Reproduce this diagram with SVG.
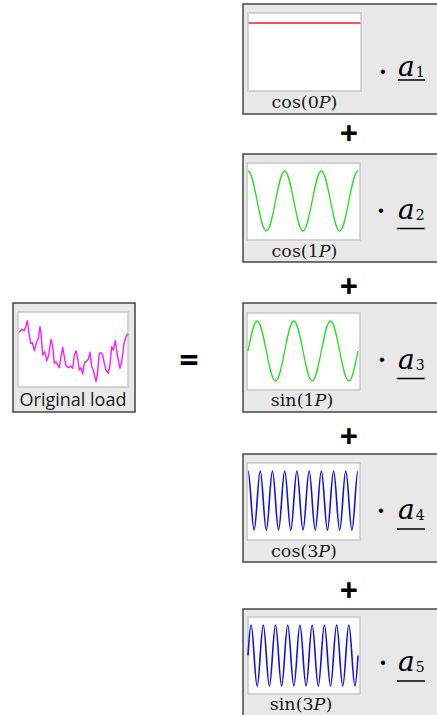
<svg xmlns="http://www.w3.org/2000/svg" width="437" height="715" viewBox="0 0 437 715">
<style>
.box{fill:#e8e8e8;stroke:#454545;stroke-width:1.5}
.panel{fill:#fff;stroke:#c8c8c8;stroke-width:1.5}
.lbl{font-family:"DejaVu Serif","Liberation Serif",serif;font-size:17.5px;fill:#1a1a1a;text-anchor:middle}
.coef{font-family:"DejaVu Serif","Liberation Serif",serif;font-size:28px;font-style:italic;fill:#000}
.sub{font-style:normal;font-size:14px}
.dot{font-family:"DejaVu Serif",serif;font-size:24px;font-weight:bold;fill:#000;text-anchor:middle}
.ul{stroke:#000;stroke-width:1.5}
.op{font-family:"Open Sans","DejaVu Sans",sans-serif;font-weight:bold;fill:#000;text-anchor:middle}
.wave{fill:none;stroke-linejoin:round}
.green{stroke:#22e01a;stroke-width:1.3}
.blue{stroke:#1010e6;stroke-width:1.6}
</style>
<rect width="437" height="715" fill="#fff"/>

<g id="original">
<rect class="box" x="13" y="303" width="122" height="109"/>
<rect class="panel" x="18" y="312" width="110" height="75"/>
<path class="wave" stroke="#ff19ff" stroke-width="1.4" d="M19.3,332.3 L21.7,329.3 L24,330.7 L26,326 L27.3,320.7 L29,333.3 L30.7,343.3 L32.3,342.7 L34.3,350.7 L36.7,341.7 L38.3,338.3 L40,326.7 L41,333.3 L42.7,355 L44.7,351.7 L46.7,360.7 L48.7,355 L51,339.3 L52.7,346.7 L54.3,363.3 L56,361.7 L57.7,365 L59.3,367.7 L61,356.7 L62.7,347.3 L64.3,356.7 L66,365.7 L68.3,367.7 L70.7,366 L72.7,368.3 L74.3,355 L76,350.7 L77.7,358.3 L79.3,370 L81,367.7 L82.7,374 L84.3,363.3 L86.7,360.7 L88.3,359.3 L90,352.3 L91.7,366.7 L93.3,370 L95,377.3 L96,381.7 L97.3,375 L99.3,353.3 L101,352.7 L102.7,355 L104.3,363.3 L106,370 L108.3,373.3 L110,365 L111.7,346.7 L113.3,350 L115.3,340.7 L117.3,355 L120,368.3 L122,360 L124,343.3 L126,336.7 L128,334"/>
<text x="73" y="405.5" font-family="'Open Sans','Noto Sans',sans-serif" font-size="18" fill="#1a1a1a" text-anchor="middle">Original load</text>
</g>

<g id="term1">
<rect class="box" x="243" y="4" width="200" height="110"/>
<rect class="panel" x="248" y="13" width="113" height="78"/>
<line x1="248.5" y1="23" x2="360.5" y2="23" stroke="#f55656" stroke-width="2"/>
<text class="lbl" x="304.5" y="108">cos(0<tspan font-style="italic">P</tspan>)</text>
<text class="dot" x="383" y="80">·</text>
<text class="coef" x="398" y="76">a<tspan class="sub" dx="1" dy="1">1</tspan></text>
<line class="ul" x1="398" y1="80" x2="425" y2="80"/>
</g>

<g id="term2">
<rect class="box" x="243" y="154" width="200" height="108"/>
<rect class="panel" x="247" y="163" width="113" height="77"/>
<path class="wave green" d="M248,171 C251.3,171 254.18,185.63 257.17,201 s5.867,30 9.167,30 s6.178,-14.634 9.167,-30 s5.867,-30 9.167,-30 s6.178,14.634 9.167,30 s5.867,30 9.167,30 s6.178,-14.634 9.167,-30 s5.867,-30 9.167,-30 s6.178,14.634 9.167,30 s5.867,30 9.167,30 s6.178,-14.634 9.167,-30 s5.867,-30 9.167,-30"/>
<text class="lbl" x="304.5" y="257">cos(1<tspan font-style="italic">P</tspan>)</text>
<text class="dot" x="381" y="219">·</text>
<text class="coef" x="398" y="219">a<tspan class="sub" dx="1" dy="1">2</tspan></text>
<line class="ul" x1="397" y1="228.5" x2="425" y2="228.5"/>
</g>

<g id="term3">
<rect class="box" x="243" y="303" width="200" height="109"/>
<rect class="panel" x="247" y="313" width="113" height="77"/>
<path class="wave green" d="M248,351 C250.99,335.63 253.87,321 257.17,321 s6.178,14.634 9.167,30 s5.867,30 9.167,30 s6.178,-14.634 9.167,-30 s5.867,-30 9.167,-30 s6.178,14.634 9.167,30 s5.867,30 9.167,30 s6.178,-14.634 9.167,-30 s5.867,-30 9.167,-30 s6.178,14.634 9.167,30 s5.867,30 9.167,30 s6.178,-14.634 9.167,-30"/>
<text class="lbl" x="302" y="406">sin(1<tspan font-style="italic">P</tspan>)</text>
<text class="dot" x="382" y="368">·</text>
<text class="coef" x="398" y="369">a<tspan class="sub" dx="1" dy="1">3</tspan></text>
<line class="ul" x1="397" y1="378.5" x2="425" y2="378.5"/>
</g>

<g id="term4">
<rect class="box" x="243" y="454" width="200" height="108"/>
<rect class="panel" x="247" y="463" width="113" height="77"/>
<path class="wave blue" d="M248,471 C249.1,471 250.06,485.39 251.056,500.5 s1.956,29.5 3.056,29.5 s2.059,-14.39 3.056,-29.5 s1.956,-29.5 3.056,-29.5 s2.059,14.39 3.056,29.5 s1.956,29.5 3.056,29.5 s2.059,-14.39 3.056,-29.5 s1.956,-29.5 3.056,-29.5 s2.059,14.39 3.056,29.5 s1.956,29.5 3.056,29.5 s2.059,-14.39 3.056,-29.5 s1.956,-29.5 3.056,-29.5 s2.059,14.39 3.056,29.5 s1.956,29.5 3.056,29.5 s2.059,-14.39 3.056,-29.5 s1.956,-29.5 3.056,-29.5 s2.059,14.39 3.056,29.5 s1.956,29.5 3.056,29.5 s2.059,-14.39 3.056,-29.5 s1.956,-29.5 3.056,-29.5 s2.059,14.39 3.056,29.5 s1.956,29.5 3.056,29.5 s2.059,-14.39 3.056,-29.5 s1.956,-29.5 3.056,-29.5 s2.059,14.39 3.056,29.5 s1.956,29.5 3.056,29.5 s2.059,-14.39 3.056,-29.5 s1.956,-29.5 3.056,-29.5 s2.059,14.39 3.056,29.5 s1.956,29.5 3.056,29.5 s2.059,-14.39 3.056,-29.5 s1.956,-29.5 3.056,-29.5 s2.059,14.39 3.056,29.5 s1.956,29.5 3.056,29.5 s2.059,-14.39 3.056,-29.5 s1.956,-29.5 3.056,-29.5"/>
<text class="lbl" x="304" y="557">cos(3<tspan font-style="italic">P</tspan>)</text>
<text class="dot" x="381" y="519">·</text>
<text class="coef" x="398" y="519">a<tspan class="sub" dx="1" dy="1">4</tspan></text>
<line class="ul" x1="397" y1="529" x2="425" y2="529"/>
</g>

<g id="term5">
<rect class="box" x="243" y="609" width="200" height="120"/>
<rect class="panel" x="248" y="617" width="112" height="77"/>
<path class="wave blue" d="M248,655.5 C249,639.88 249.96,625 251.056,625 s2.059,14.88 3.056,30.5 s1.956,30.5 3.056,30.5 s2.059,-14.88 3.056,-30.5 s1.956,-30.5 3.056,-30.5 s2.059,14.88 3.056,30.5 s1.956,30.5 3.056,30.5 s2.059,-14.88 3.056,-30.5 s1.956,-30.5 3.056,-30.5 s2.059,14.88 3.056,30.5 s1.956,30.5 3.056,30.5 s2.059,-14.88 3.056,-30.5 s1.956,-30.5 3.056,-30.5 s2.059,14.88 3.056,30.5 s1.956,30.5 3.056,30.5 s2.059,-14.88 3.056,-30.5 s1.956,-30.5 3.056,-30.5 s2.059,14.88 3.056,30.5 s1.956,30.5 3.056,30.5 s2.059,-14.88 3.056,-30.5 s1.956,-30.5 3.056,-30.5 s2.059,14.88 3.056,30.5 s1.956,30.5 3.056,30.5 s2.059,-14.88 3.056,-30.5 s1.956,-30.5 3.056,-30.5 s2.059,14.88 3.056,30.5 s1.956,30.5 3.056,30.5 s2.059,-14.88 3.056,-30.5 s1.956,-30.5 3.056,-30.5 s2.059,14.88 3.056,30.5 s1.956,30.5 3.056,30.5 s2.059,-14.88 3.056,-30.5 s1.956,-30.5 3.056,-30.5 s2.059,14.88 3.056,30.5 s1.956,30.5 3.056,30.5 s2.059,-14.88 3.056,-30.5"/>
<text class="lbl" x="301" y="710">sin(3<tspan font-style="italic">P</tspan>)</text>
<text class="dot" x="383" y="671">·</text>
<text class="coef" x="398" y="671">a<tspan class="sub" dx="1" dy="1">5</tspan></text>
<line class="ul" x1="397" y1="681" x2="425" y2="681"/>
</g>

<g id="connectors">
<text class="op" x="189" y="372" font-size="34">=</text>
<text class="op" x="349" y="145" font-size="32">+</text>
<text class="op" x="349" y="298" font-size="32">+</text>
<text class="op" x="349" y="448" font-size="32">+</text>
<text class="op" x="349" y="602" font-size="32">+</text>
</g>
</svg>
